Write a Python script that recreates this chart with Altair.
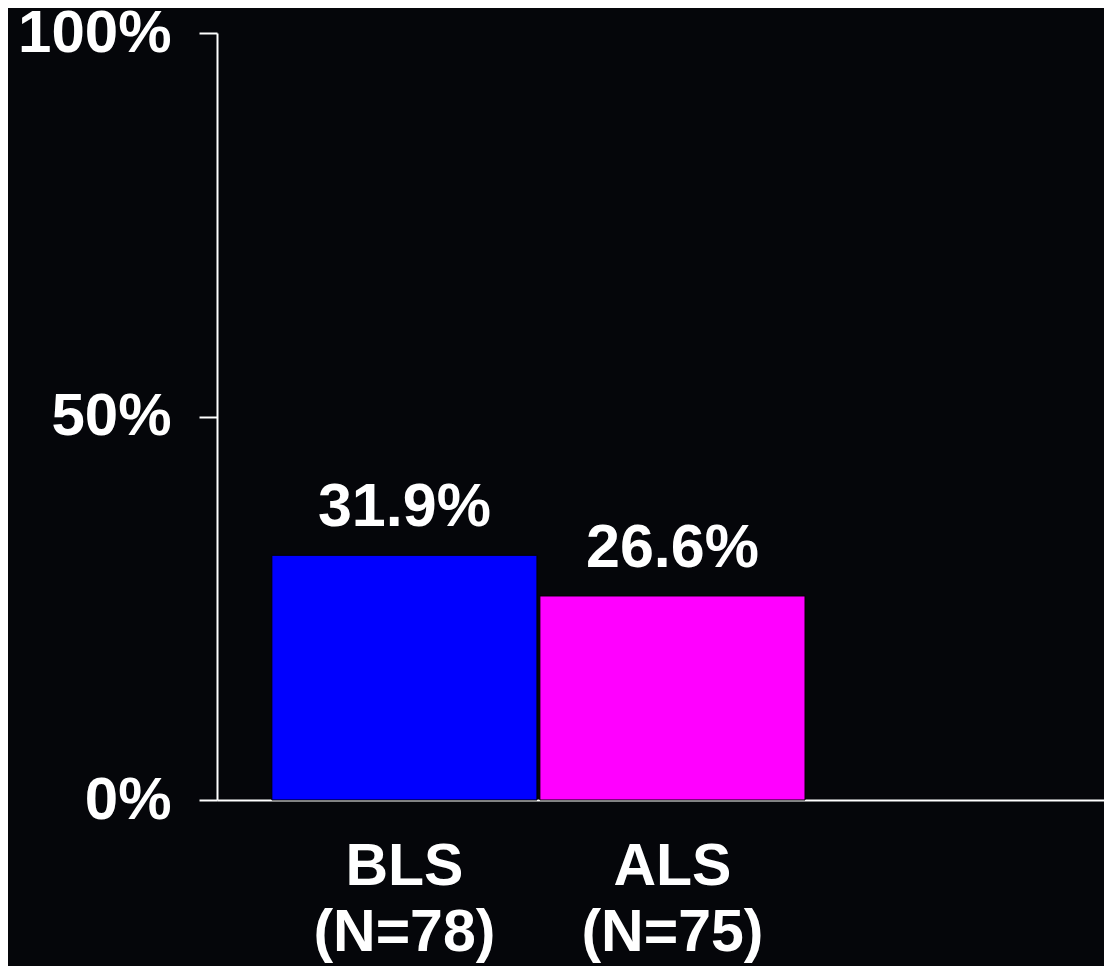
import altair as alt
import pandas as pd

groups = ["BLS", "ALS"]
n_values = [78, 75]
percent = [31.9, 26.6]
colors = ["#0000ff", "#ff00ff"]
y_ticks = [0, 50, 100]

df = pd.DataFrame({
    "group": [f"{g}|(N={n})" for g, n in zip(groups, n_values)],
    "pct": percent,
    "label": [f"{p:.1f}%" for p in percent],
    "color": colors,
})

FONT = "Liberation Sans"

x_scale = alt.Scale(paddingInner=0.011, paddingOuter=0.66, align=0.155)

x_enc = alt.X(
    "group:N",
    sort=None,
    scale=x_scale,
    axis=alt.Axis(
        title=None,
        labelAngle=0,
        labelExpr="split(datum.label, '|')",
        labelFont=FONT,
        labelFontWeight="bold",
        labelFontSize=59,
        labelColor="white",
        labelPadding=37,
        labelLineHeight=66,
        labelLimit=0,
        ticks=False,
        domainColor="white",
        domainWidth=2,
    ),
)

y_enc = alt.Y(
    "pct:Q",
    scale=alt.Scale(domain=[0, 100], nice=False, zero=True),
    axis=alt.Axis(
        title=None,
        values=y_ticks,
        labelExpr="datum.value + '%'",
        labelFont=FONT,
        labelFontWeight="bold",
        labelFontSize=60,
        labelColor="white",
        labelPadding=28,
        labelLimit=0,
        tickSize=18,
        tickWidth=2,
        tickColor="white",
        domainColor="white",
        domainWidth=2,
        grid=False,
    ),
)

bars = alt.Chart(df).mark_bar(stroke="black", strokeWidth=1).encode(
    x=x_enc,
    y=y_enc,
    color=alt.Color("color:N", scale=None),
)

labels = alt.Chart(df).mark_text(
    font=FONT,
    fontWeight="bold",
    fontSize=61,
    color="white",
    baseline="alphabetic",
    dy=-29,
).encode(
    x=alt.X("group:N", sort=None, scale=x_scale),
    y="pct:Q",
    text="label:N",
)

chart = (
    alt.layer(bars, labels)
    .properties(
        width=887,
        height=767,
        background="#05060a",
        autosize=alt.AutoSizeParams(type="none"),
        padding={"left": 209, "top": 25, "right": 0, "bottom": 166},
    )
    .configure_view(stroke=None)
)

chart.save("out.html", embed_options={"renderer": "svg", "actions": False})
